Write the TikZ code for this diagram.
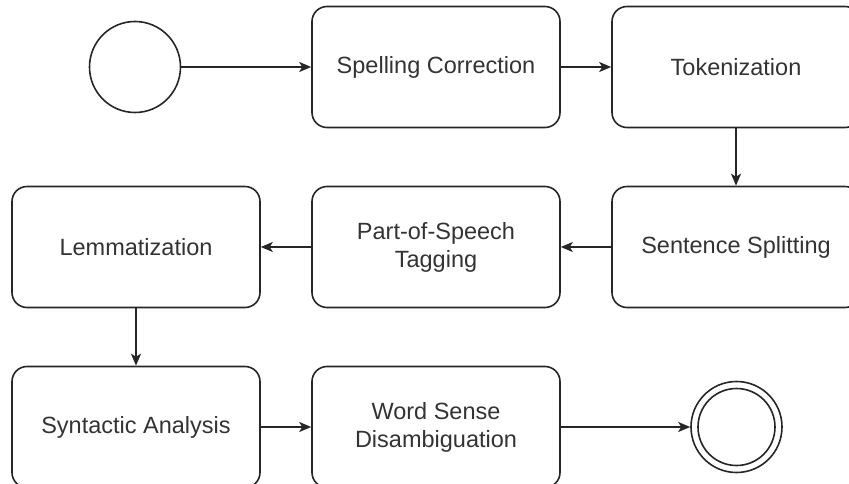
\documentclass[tikz,border=0pt]{standalone}
\usepackage{fontspec}
\setmainfont{Liberation Sans}
\usetikzlibrary{arrows.meta}
\begin{document}
\begin{tikzpicture}[x=1pt,y=-1pt,
  ink/.style={draw=black!85, line width=1.6pt},
  stepbox/.style={ink, rounded corners=15pt, minimum width=248pt, minimum height=121pt,
    inner sep=0pt, align=center, text=black!80,
    font=\fontsize{23.5}{28}\selectfont},
  event/.style={ink, circle, minimum size=91pt, inner sep=0pt},
  flow/.style={ink, -{Stealth[length=12pt,width=10pt,inset=3pt]}}]
  \useasboundingbox (0,0) rectangle (849,484);
  \clip (0,0) rectangle (849,484);
  \fill[white] (0,0) rectangle (849,484);

  % start and end events
  \node[event] (start) at (135,67) {};
  \node[event] (stop) at (736.5,427) {};
  \draw[ink] (stop.center) circle (38.5pt);

  % processing steps
  \node[stepbox] (spell) at (436,67) {Spelling Correction};
  \node[stepbox] (tok) at (736,67) {Tokenization};
  \node[stepbox] (sent) at (736,247) {Sentence Splitting};
  \node[stepbox] (pos) at (436,247) {Part-of-Speech\\Tagging};
  \node[stepbox] (lem) at (136,247) {Lemmatization};
  \node[stepbox] (syn) at (136,427) {Syntactic Analysis};
  \node[stepbox] (wsd) at (436,427) {Word Sense\\Disambiguation};

  % connectors
  \draw[flow] (start) -- (spell);
  \draw[flow] (spell) -- (tok);
  \draw[flow] (tok) -- (sent);
  \draw[flow] (sent) -- (pos);
  \draw[flow] (pos) -- (lem);
  \draw[flow] (lem) -- (syn);
  \draw[flow] (syn) -- (wsd);
  \draw[flow] (wsd) -- (stop);
\end{tikzpicture}
\end{document}
